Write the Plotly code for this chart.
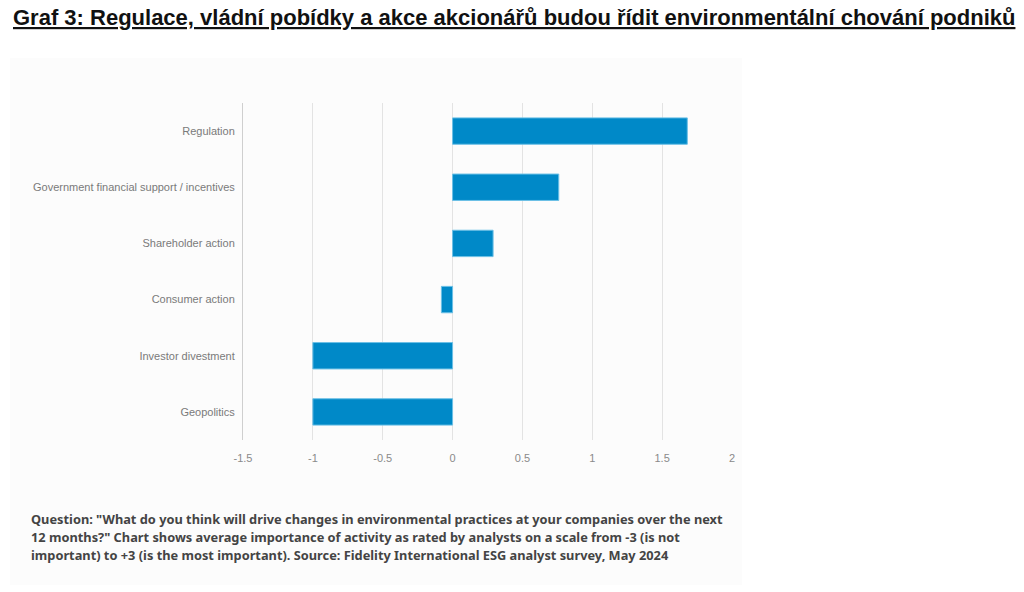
import plotly.graph_objects as go

categories = ["Regulation", "Government financial support / incentives", "Shareholder action",
              "Consumer action", "Investor divestment", "Geopolitics"]
values = [1.68, 0.76, 0.29, -0.08, -1.0, -1.0]
tick_vals = [-1.5, -1, -0.5, 0, 0.5, 1, 1.5, 2]
tick_text = ["-1.5", "-1", "-0.5", "0", "0.5", "1", "1.5", "2"]

title = "Graf 3: Regulace, vládní pobídky a akce akcionářů budou řídit environmentální chování podniků"
note_lines = [
    'Question: "What do you think will drive changes in environmental practices at your companies over the next',
    '12 months?" Chart shows average importance of activity as rated by analysts on a scale from -3 (is not',
    'important) to +3 (is the most important). Source: Fidelity International ESG analyst survey, May 2024',
]

W, H = 1024, 592
L, R, T, B = 243, 732, 103, 440

def px(xp):
    return (xp - L) / (R - L)

def py(yp):
    return (B - yp) / (B - T)

fig = go.Figure()
fig.add_trace(go.Bar(
    x=values, y=categories, orientation="h",
    marker=dict(color="#0089c8", line=dict(color="#6cc0e6", width=1)),
    width=0.47,
))

annotations = [
    dict(text="<b><u>" + title + "</u></b>", xref="paper", yref="paper",
         x=px(11), y=py(17), xanchor="left", yanchor="middle",
         showarrow=False, font=dict(family="Liberation Sans, Arial, sans-serif",
                                    size=22, color="#111111")),
]
for i, line in enumerate(note_lines):
    annotations.append(dict(text="<b>" + line + "</b>", xref="paper", yref="paper",
                            x=px(29), y=py(519 + 18 * i), xanchor="left", yanchor="middle",
                            align="left", showarrow=False,
                            font=dict(family="Noto Sans, sans-serif", size=12.8, color="#444444")))

fig.update_layout(
    width=W, height=H,
    margin=dict(l=L, r=W - R, t=T, b=H - B, pad=0),
    paper_bgcolor="white", plot_bgcolor="rgba(0,0,0,0)",
    showlegend=False,
    font=dict(family="Liberation Sans, Arial, sans-serif"),
    xaxis=dict(range=[-1.5, 2], tickvals=tick_vals, ticktext=tick_text,
               showgrid=True, gridcolor="#e3e3e3", gridwidth=1, zeroline=False,
               tickfont=dict(size=11, color="#8a8a8a"), ticks="outside", ticklen=8,
               tickcolor="rgba(0,0,0,0)", fixedrange=True),
    yaxis=dict(categoryorder="array", categoryarray=categories[::-1],
               showgrid=False, zeroline=False, showline=True, linecolor="#cfcfcf", linewidth=1,
               tickfont=dict(size=11, color="#7a7a7a"), ticks="outside", ticklen=5,
               tickcolor="rgba(0,0,0,0)", fixedrange=True),
    shapes=[dict(type="rect", xref="paper", yref="paper",
                 x0=px(10), x1=px(742), y0=py(585), y1=py(58),
                 fillcolor="#fcfcfc", line=dict(width=0), layer="below")],
    annotations=annotations,
)

fig.write_html("out.html")
